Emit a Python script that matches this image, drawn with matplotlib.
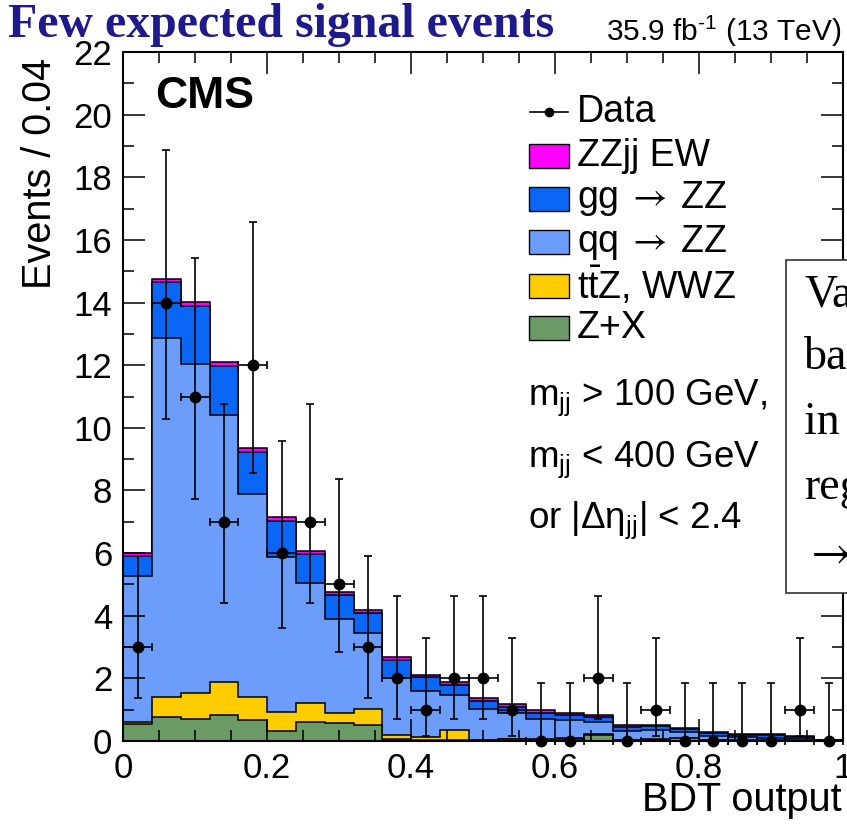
import numpy as np
import matplotlib
matplotlib.use("Agg")
import matplotlib.pyplot as plt
from matplotlib.patches import Rectangle
from matplotlib.lines import Line2D

plt.rcParams['font.family'] = ['Liberation Sans', 'DejaVu Sans']
plt.rcParams['mathtext.fontset'] = 'stixsans'

# ---------------- data ----------------
bin_edges = np.linspace(0.0, 1.0, 26)   # 25 bins of 0.04

zx   = [0.55, 0.76, 0.69, 0.84, 0.68, 0.33, 0.61, 0.56, 0.51, 0.06, 0.04, 0.04, 0.02,
        0.05, 0.04, 0.06, 0.19, 0.02, 0.03, 0.09, 0.02, 0.01, 0.01, 0.01, 0.00]
ttz  = [0.05, 0.65, 0.85, 1.05, 0.73, 0.59, 0.60, 0.32, 0.51, 0.12, 0.09, 0.30, 0.02,
        0.01, 0.02, 0.04, 0.02, 0.01, 0.03, 0.01, 0.01, 0.01, 0.01, 0.00, 0.00]
qqzz = [4.67, 11.47, 10.51, 8.51, 6.47, 4.96, 3.82, 3.02, 2.42, 1.83, 1.48, 1.12, 0.97,
        0.82, 0.65, 0.57, 0.40, 0.29, 0.29, 0.20, 0.14, 0.10, 0.08, 0.05, 0.01]
ggzz = [0.63, 1.77, 1.85, 1.56, 1.34, 1.15, 0.93, 0.76, 0.64, 0.57, 0.42, 0.34, 0.27,
        0.21, 0.19, 0.16, 0.15, 0.13, 0.12, 0.09, 0.08, 0.08, 0.08, 0.06, 0.01]
zzjj_ew = [0.09, 0.10, 0.12, 0.14, 0.13, 0.12, 0.11, 0.11, 0.11, 0.10, 0.09, 0.08, 0.09,
           0.08, 0.08, 0.06, 0.07, 0.05, 0.05, 0.04, 0.04, 0.03, 0.03, 0.03, 0.01]

data = [3, 14, 11, 7, 12, 6, 7, 5, 3, 2, 1, 2, 2, 1, 0, 0, 2, 0, 1, 0, 0, 0, 0, 1, 0]
data_err_lo = [1.63, 3.72, 3.28, 2.58, 3.44, 2.38, 2.58, 2.16, 1.63, 1.29, 0.83, 1.29, 1.29,
               0.83, 0.00, 0.00, 1.29, 0.00, 0.83, 0.00, 0.00, 0.00, 0.00, 0.83, 0.00]
data_err_hi = [2.92, 4.87, 4.42, 3.77, 4.58, 3.58, 3.77, 3.38, 2.92, 2.64, 2.30, 2.64, 2.64,
               2.30, 1.84, 1.84, 2.64, 1.84, 2.30, 1.84, 1.84, 1.84, 1.84, 2.30, 1.84]

layers = [zx, ttz, qqzz, ggzz, zzjj_ew]
colors = ["#6a9a66", "#ffcc00", "#6c9dfb", "#0a66f4", "#ff00ff"]

legend_labels = ["Data", "ZZjj EW", r"gg$\;\rightarrow\;$ZZ", r"qq$\;\rightarrow\;$ZZ",
                 r"t$\mathregular{\bar{t}}$Z, WWZ", "Z+X"]
legend_colors = [None, "#ff00ff", "#0a66f4", "#6c9dfb", "#ffcc00", "#6a9a66"]

# ---------------- figure ----------------
W, H = 847, 824
fig = plt.figure(figsize=(W / 100, H / 100), dpi=100)
fig.patch.set_facecolor("white")

def fx(x):
    return x / W

def fy(y):
    return 1 - y / H

ax_l, ax_r, ax_t, ax_b = 123.3, 843, 52, 741
ax = fig.add_axes([fx(ax_l), fy(ax_b), (ax_r - ax_l) / W, (ax_b - ax_t) / H])

cum = np.cumsum(np.array(layers), axis=0)
# draw from total (top) downwards, each filled from zero, like a ROOT THStack
for i in range(len(layers) - 1, -1, -1):
    ax.stairs(cum[i], bin_edges, baseline=0, fill=True, facecolor=colors[i],
              edgecolor="black", linewidth=1.1, zorder=1)

centers = 0.5 * (bin_edges[:-1] + bin_edges[1:])
half_w = 0.5 * np.diff(bin_edges)
ax.errorbar(centers, data, yerr=[data_err_lo, data_err_hi], xerr=half_w,
            fmt="o", color="black", markersize=7.5, elinewidth=1.2,
            capsize=3, capthick=1.2, zorder=5, clip_on=False)

ax.set_xlim(0, 1)
ax.set_ylim(0, 22)
ax.set_xticks(np.arange(0, 1.01, 0.2))
ax.set_xticklabels(["0", "0.2", "0.4", "0.6", "0.8", "1"])
ax.set_xticks(np.arange(0, 1.001, 0.05), minor=True)
ax.set_yticks(np.arange(0, 23, 2))
ax.set_yticks(np.arange(0, 23, 1), minor=True)
ax.tick_params(which="both", direction="in", top=True, right=True, width=1.1)
ax.tick_params(which="major", length=16, labelsize=25, pad=8)
ax.tick_params(which="minor", length=8)
for s in ax.spines.values():
    s.set_linewidth(1.5)

# axis titles
fig.text(fx(842), fy(800), "BDT output", ha="right", va="center", fontsize=28.5)
fig.text(fx(40), fy(58), "Events / 0.04", rotation=90, ha="center", va="top", fontsize=28.5)

# CMS label
fig.text(fx(155), fy(97), "CMS", ha="left", va="center", fontsize=32, fontweight="bold")

# lumi label
fig.text(fx(842), fy(41), r"35.9 fb$^{\mathregular{\text{-}1}}$ (13 TeV)", ha="right",
         va="baseline", fontsize=21.5)

# slide title
fig.text(fx(8), fy(37), "Few expected signal events", ha="left", va="baseline",
         fontsize=34.5, fontweight="bold", color="#1f1a8c", family="Liberation Serif")

# legend (manual)
row_y = [112, 156, 199, 242, 286, 328]
for lab, col, yy in zip(legend_labels, legend_colors, row_y):
    if col is None:
        fig.add_artist(Line2D([fx(530), fx(568)], [fy(yy), fy(yy)], color="black", lw=1.2,
                              transform=fig.transFigure))
        fig.add_artist(Line2D([fx(549)], [fy(yy)], marker="o", markersize=6, color="black",
                              transform=fig.transFigure))
    else:
        fig.add_artist(Rectangle((fx(529), fy(yy + 12)), 40 / W, 24 / H,
                                 facecolor=col, edgecolor="black", lw=1.0,
                                 transform=fig.transFigure))
    fig.text(fx(577), fy(yy), lab, ha="left", va="center", fontsize=27)

# selection text
sel = [r"$\mathregular{m_{jj}}$ > 100 GeV,",
       r"$\mathregular{m_{jj}}$ < 400 GeV",
       r"or $\mathregular{|\Delta\eta_{jj}|}$ < 2.4"]
for txt, yy in zip(sel, [398, 460, 520]):
    fig.text(fx(528), fy(yy), txt, ha="left", va="center", fontsize=26.5)

# overlay box from the slide (cut at the right edge)
fig.add_artist(Rectangle((fx(786), fy(593)), 100 / W, (593 - 260) / H,
                         facecolor="white", edgecolor="#333333", lw=1.2,
                         transform=fig.transFigure, zorder=10))
box_lines = ["Va", "ba", "in", "reg", r"$\rightarrow$"]
for txt, yy in zip(box_lines, [295, 358, 423, 488, 553]):
    fig.text(fx(804), fy(yy), txt, ha="left", va="center", fontsize=33,
             family=["Liberation Serif", "DejaVu Serif"], zorder=11)

fig.savefig("out.png", dpi=100)
